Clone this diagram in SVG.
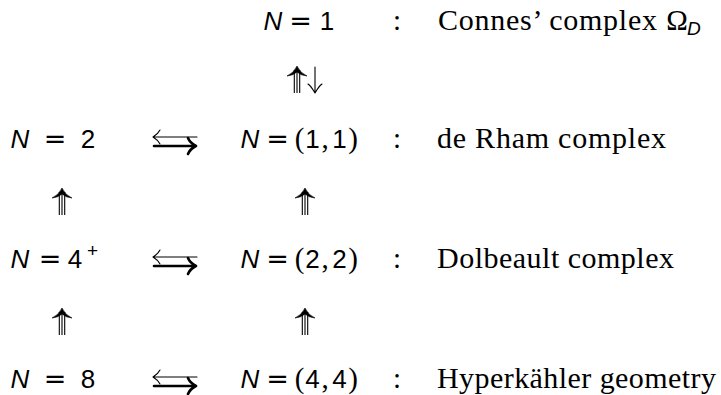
<svg xmlns="http://www.w3.org/2000/svg" width="721" height="395" viewBox="0 0 721 395">
<style>
.bg{fill:#fff}
.n{font-family:"Liberation Sans",Arial,sans-serif;font-size:26px;font-style:italic;fill:#000;text-anchor:middle}
.d{font-family:"Liberation Sans",Arial,sans-serif;font-size:26px;fill:#000;text-anchor:middle}
.sup{font-family:"Liberation Sans",Arial,sans-serif;font-size:19px;fill:#000;text-anchor:middle}
.eq{font-family:"DejaVu Sans",sans-serif;font-size:27px;fill:#000;text-anchor:middle}
.p{font-family:"Liberation Serif","Times New Roman",serif;font-size:29px;fill:#000;text-anchor:middle}
.t{font-family:"Liberation Serif","Times New Roman",serif;font-size:30px;fill:#000}
.sub{font-family:"Liberation Sans",Arial,sans-serif;font-size:19px;font-style:italic;fill:#000}
.thin{fill:none;stroke:#000;stroke-width:1.1;stroke-linecap:round}
.thick{fill:none;stroke:#000;stroke-width:2.6;stroke-linecap:round}
.shaft{fill:none;stroke:#000;stroke-width:1.1}
.head{fill:#000;stroke:#000;stroke-width:0.6;stroke-linejoin:round}
</style>
<defs>
<g id="tri">
<path class="shaft" d="M-2.7,4 V27 M0,3 V27 M2.7,4 V27"/>
<path class="head" d="M0,0 Q3,7 10,10 Q4,9.5 0,6 Q-4,9.5 -10,10 Q-3,7 0,0 Z"/>
</g>
<g id="lr">
<path class="thin" d="M0,0 H44 M0,0 Q5,-3 7,-7 M0,0 Q5,3 7,7"/>
<path class="thick" d="M1,9 H43 M43,9 Q37,6 35,1 M43,9 Q37,12 35,17"/>
</g>
</defs>
<rect class="bg" x="0" y="0" width="721" height="395"/>

<g id="connectors">
<g id="r1-down">
<use href="#tri" x="297" y="66"/>
<path class="thin" d="M315,67 V93 M315,93 Q311,86 308,84 M315,93 Q319,86 322,84"/>
</g>
<use id="a-2-4" href="#tri" x="62" y="188"/>
<use id="a-4-8" href="#tri" x="62" y="308"/>
<use id="a-11-22" href="#tri" x="305" y="188"/>
<use id="a-22-44" href="#tri" x="305" y="308"/>
<use id="h-2" href="#lr" x="153" y="137"/>
<use id="h-4" href="#lr" x="153" y="257"/>
<use id="h-8" href="#lr" x="153" y="377"/>
</g>

<g id="n1">
<text class="n" x="273" y="30">N</text><text class="eq" x="300.5" y="30">=</text><text class="d" x="327" y="30">1</text>
<text class="p" x="397" y="30">:</text>
<text class="t" x="438" y="30" textLength="219">Connes’ complex</text>
<text class="p" x="677" y="30">Ω</text><text class="sub" x="687" y="35">D</text>
</g>

<g id="n2">
<text class="n" x="20" y="148">N</text><text class="eq" x="55" y="148">=</text><text class="d" x="88" y="148">2</text>
</g>
<g id="n11">
<text class="n" x="250" y="148">N</text><text class="eq" x="277.5" y="148">=</text>
<text class="p" x="299.5" y="148">(</text><text class="d" x="312.5" y="148">1</text><text class="p" x="325" y="148">,</text><text class="d" x="339.5" y="148">1</text><text class="p" x="353" y="148">)</text>
<text class="p" x="397" y="148">:</text>
<text class="t" x="437" y="148" textLength="229">de Rham complex</text>
</g>

<g id="n4">
<text class="n" x="20" y="268">N</text><text class="eq" x="50" y="268">=</text><text class="d" x="75" y="268">4</text><text class="sup" x="92.5" y="257">+</text>
</g>
<g id="n22">
<text class="n" x="250" y="268">N</text><text class="eq" x="277.5" y="268">=</text>
<text class="p" x="299.5" y="268">(</text><text class="d" x="312.5" y="268">2</text><text class="p" x="325" y="268">,</text><text class="d" x="339.5" y="268">2</text><text class="p" x="353" y="268">)</text>
<text class="p" x="397" y="268">:</text>
<text class="t" x="437" y="268" textLength="237">Dolbeault complex</text>
</g>

<g id="n8">
<text class="n" x="20" y="388">N</text><text class="eq" x="55" y="388">=</text><text class="d" x="88" y="388">8</text>
</g>
<g id="n44">
<text class="n" x="250" y="388">N</text><text class="eq" x="277.5" y="388">=</text>
<text class="p" x="299.5" y="388">(</text><text class="d" x="312.5" y="388">4</text><text class="p" x="325" y="388">,</text><text class="d" x="339.5" y="388">4</text><text class="p" x="353" y="388">)</text>
<text class="p" x="397" y="388">:</text>
<text class="t" x="437" y="388" textLength="279">Hyperkähler geometry</text>
</g>
</svg>
